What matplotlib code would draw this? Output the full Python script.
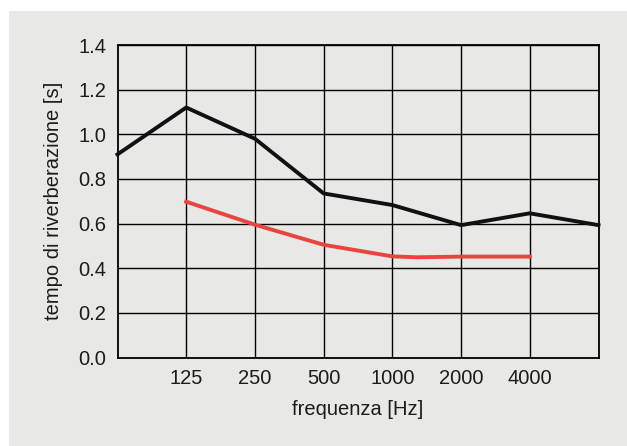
import matplotlib
matplotlib.use("Agg")
import matplotlib.pyplot as plt
from matplotlib.patches import Rectangle

plt.rcParams['font.family'] = ['Liberation Sans', 'DejaVu Sans']

# frequency bands (category positions 1..6, axis runs 0..7)
freq_labels = ['125', '250', '500', '1000', '2000', '4000']
black_x = [0, 1, 2, 3, 4, 5, 6, 7]
black_y = [0.91, 1.12, 0.98, 0.735, 0.683, 0.593, 0.646, 0.593]
red_x = [1, 2, 3, 4, 4.35, 5, 6]
red_y = [0.698, 0.595, 0.505, 0.453, 0.449, 0.452, 0.452]
y_ticks = [0.0, 0.2, 0.4, 0.6, 0.8, 1.0, 1.2, 1.4]

bg = '#e8e8e6'
txt = '#1c1c1c'
fs = 14.5

fig = plt.figure(figsize=(6.27, 4.46), dpi=100, facecolor='white')
# gray panel with white margin top/left
fig.patches.append(Rectangle((9 / 627, 0), 1, 1 - 11 / 446,
                             transform=fig.transFigure, facecolor=bg,
                             edgecolor='none', zorder=-10))

ax = fig.add_axes([117.5 / 627, 1 - 357.5 / 446, 481 / 627, 312.5 / 446])
ax.set_facecolor(bg)

ax.plot(black_x, black_y, color='#111111', lw=2.8, solid_joinstyle='miter',
        zorder=3, clip_on=False)
ax.plot(red_x, red_y, color='#e8453e', lw=2.8, zorder=3)

ax.set_xlim(0, 7)
ax.set_ylim(0, 1.4)
ax.set_xticks(range(1, 7))
ax.set_xticklabels(freq_labels)
ax.set_yticks(y_ticks)
ax.set_yticklabels(['%.1f' % v for v in y_ticks])
ax.grid(True, color='black', lw=1.0)
ax.set_axisbelow(True)
for s in ax.spines.values():
    s.set_color('black')
    s.set_linewidth(1.3)
ax.tick_params(length=0, labelsize=fs, colors=txt, pad=8)
ax.tick_params(axis='y', pad=8)

ax.set_xlabel('frequenza [Hz]', fontsize=fs, color=txt, labelpad=9)
ax.set_ylabel('tempo di riverberazione [s]', fontsize=fs, color=txt, labelpad=11)

fig.savefig('out.png', dpi=100, facecolor='white')
